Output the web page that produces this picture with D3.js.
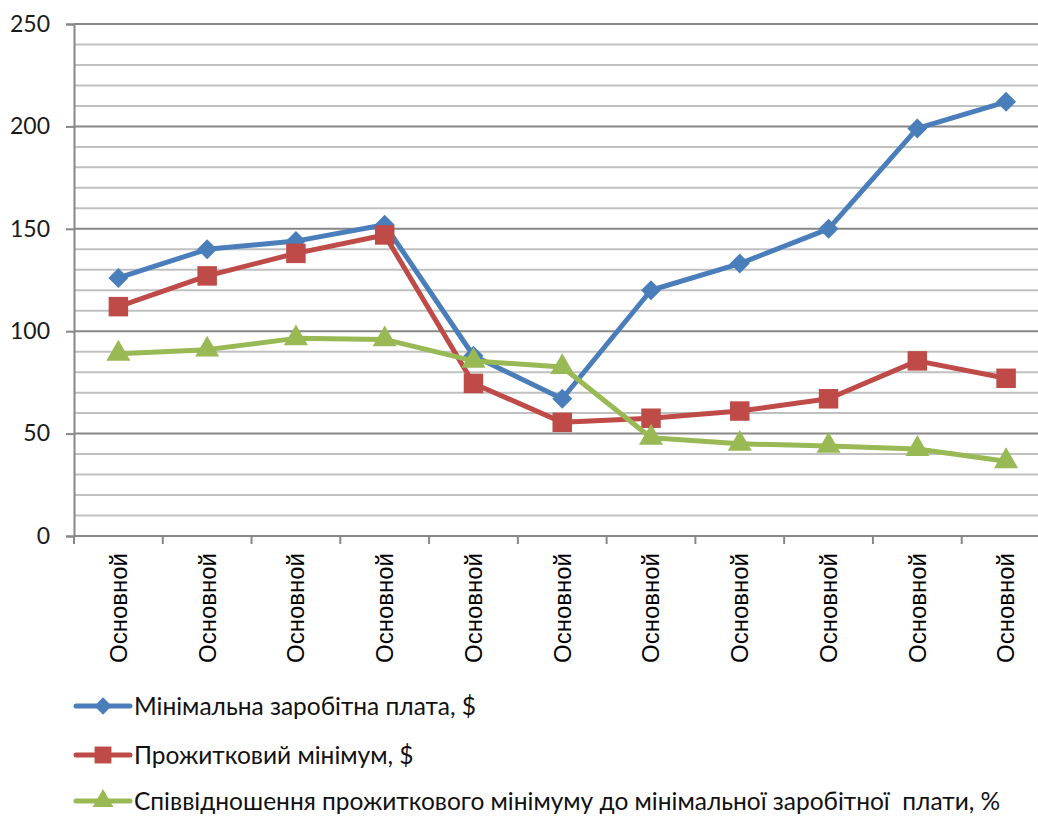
<!DOCTYPE html>
<html>
<head>
<meta charset="utf-8">
<script src="https://cdn.jsdelivr.net/npm/d3@7"></script>
<style>
  body { margin: 0; background: #fff; }
  svg { display: block; }
  .legend text { white-space: pre; }
</style>
</head>
<body>
<svg id="chart" width="1038" height="816"></svg>
<script>
// categories on the x axis
var categories = ["Основной", "Основной", "Основной", "Основной", "Основной", "Основной",
                  "Основной", "Основной", "Основной", "Основной", "Основной"];

// series values
var minWage = [126, 140, 144, 152, 88, 67, 120, 133, 150, 199, 212];
var livingMin = [112, 127, 138, 147, 74.5, 55.5, 57.5, 61, 67, 85.5, 77];
var ratio = [89, 91, 96.5, 96, 85.5, 82.5, 48, 45, 44, 42.5, 36.5];

var yTicks = [0, 50, 100, 150, 200, 250];
var yMinor = d3.range(0, 251, 10);

var seriesNames = [
    "Мінімальна заробітна плата, $",
    "Прожитковий мінімум, $",
    "Співвідношення прожиткового мінімуму до мінімальної заробітної  плати, %"
];

var series = [
    {name: seriesNames[0], values: minWage, color: "#4A7EBB", symbol: "diamond"},
    {name: seriesNames[1], values: livingMin, color: "#BE4B48", symbol: "square"},
    {name: seriesNames[2], values: ratio, color: "#98B954", symbol: "triangle"}
];

function drawChart() {
    const svg = d3.select("#chart");
    const left = 74, top = 24, bottom = 536;
    const band = 88.77;
    const right = left + band * categories.length;

    const x = d3.scaleBand()
        .domain(d3.range(categories.length))
        .range([left, right])
        .padding(0);
    const y = d3.scaleLinear().domain([0, 250]).range([bottom, top]);

    // minor gridlines
    svg.append("g")
        .selectAll("line")
        .data(yMinor.filter(v => v % 50 !== 0))
        .enter()
        .append("line")
        .attr("x1", left).attr("x2", right)
        .attr("y1", d => y(d)).attr("y2", d => y(d))
        .attr("stroke", "#C0C0C0")
        .attr("stroke-width", 2);

    // major gridlines
    svg.append("g")
        .selectAll("line")
        .data(yTicks.filter(v => v > 0))
        .enter()
        .append("line")
        .attr("x1", left).attr("x2", right)
        .attr("y1", d => y(d)).attr("y2", d => y(d))
        .attr("stroke", "#878787")
        .attr("stroke-width", 2);

    // y axis
    const yAxis = svg.append("g")
        .attr("transform", `translate(${left},0)`)
        .call(d3.axisLeft(y).tickValues(yTicks).tickSize(8).tickPadding(16));
    yAxis.select(".domain").attr("stroke", "#878787").attr("stroke-width", 2);
    yAxis.selectAll(".tick line").attr("stroke", "#878787").attr("stroke-width", 2);
    yAxis.selectAll("text")
        .attr("fill", "#1a1a1a")
        .style("font-family", "Lato, 'Open Sans', sans-serif")
        .style("font-size", "23px");

    // x axis
    const xAxis = svg.append("g")
        .attr("transform", `translate(0,${bottom})`)
        .call(d3.axisBottom(x).tickSize(0).tickFormat(i => categories[i]));
    xAxis.select(".domain").remove();
    xAxis.selectAll(".tick text")
        .attr("transform", "rotate(-90)")
        .attr("x", -17)
        .attr("y", 0)
        .attr("dy", "0.35em")
        .attr("text-anchor", "end")
        .attr("fill", "#000")
        .style("font-family", "'Liberation Sans', Arial, sans-serif")
        .style("font-size", "24px");
    svg.append("line")
        .attr("x1", left).attr("x2", right)
        .attr("y1", bottom).attr("y2", bottom)
        .attr("stroke", "#878787").attr("stroke-width", 2);
    svg.append("g")
        .selectAll("line")
        .data(d3.range(categories.length + 1))
        .enter()
        .append("line")
        .attr("x1", i => left + band * i).attr("x2", i => left + band * i)
        .attr("y1", bottom).attr("y2", bottom + 8)
        .attr("stroke", "#878787").attr("stroke-width", 2);

    const cx = i => x(i) + x.bandwidth() / 2;
    const line = d3.line().x((d, i) => cx(i)).y(d => y(d));
    // diamond = square turned 45 degrees, like the office chart marker
    const symbolType = {diamond: d3.symbolSquare, square: d3.symbolSquare, triangle: d3.symbolTriangle};
    const symbolSize = {diamond: 200, square: 380, triangle: 250};
    const symbolRot = {diamond: 45, square: 0, triangle: 0};

    const g = svg.append("g").attr("id", "series");
    series.forEach(s => {
        g.append("path")
            .attr("d", line(s.values))
            .attr("fill", "none")
            .attr("stroke", s.color)
            .attr("stroke-width", 5)
            .attr("stroke-linejoin", "round");
        g.append("g")
            .selectAll("path")
            .data(s.values)
            .enter()
            .append("path")
            .attr("transform", (d, i) => `translate(${cx(i)},${y(d)}) rotate(${symbolRot[s.symbol]})`)
            .attr("d", d3.symbol().type(symbolType[s.symbol]).size(symbolSize[s.symbol]))
            .attr("fill", s.color);
    });

    // legend
    const legend = svg.append("g").attr("class", "legend");
    const rowY = [706, 755, 801];
    series.forEach((s, i) => {
        const row = legend.append("g").attr("transform", `translate(0,${rowY[i]})`);
        row.append("line")
            .attr("x1", 76).attr("x2", 130)
            .attr("stroke", s.color).attr("stroke-width", 5)
            .attr("stroke-linecap", "round");
        row.append("path")
            .attr("transform", `translate(103,0) rotate(${symbolRot[s.symbol]})`)
            .attr("d", d3.symbol().type(symbolType[s.symbol]).size(symbolSize[s.symbol] * 0.75))
            .attr("fill", s.color);
        row.append("text")
            .attr("x", 134)
            .attr("dy", "0.35em")
            .attr("fill", "#111")
            .style("font-family", "Lato, 'Open Sans', sans-serif")
            .style("font-size", "24.5px")
            .text(s.name);
    });
}

drawChart();
</script>
</body>
</html>
